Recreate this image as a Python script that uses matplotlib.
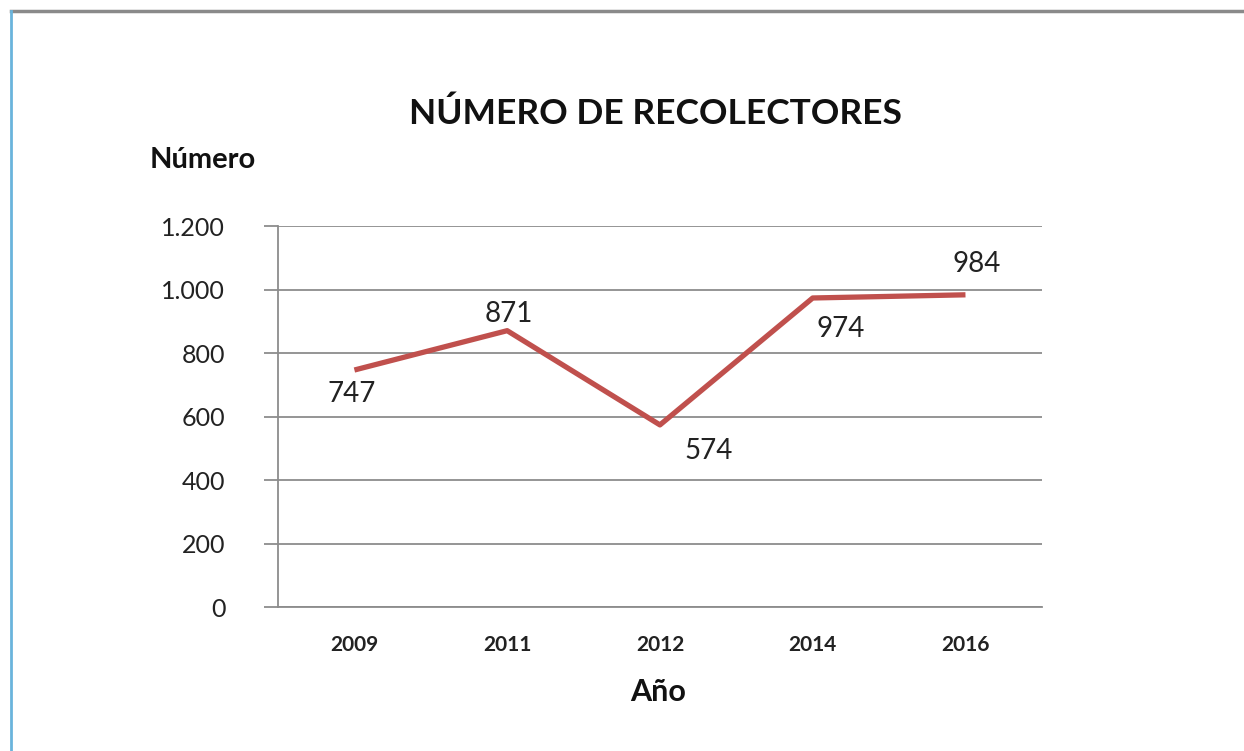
import matplotlib.pyplot as plt
from matplotlib.lines import Line2D
from matplotlib.ticker import FuncFormatter

plt.rcParams['font.family'] = ['Lato', 'DejaVu Sans']

years = ['2009', '2011', '2012', '2014', '2016']
recolectores = [747, 871, 574, 974, 984]
# label offsets (points) as placed in the original chart
label_offsets = [(-2, -17), (1, 12), (35, -19), (20, -22), (8, 22)]

fig = plt.figure(figsize=(12.44, 7.51), dpi=100)
ax = fig.add_axes([0.2235, 0.1917, 0.614, 0.507])

x = list(range(len(years)))
ax.plot(x, recolectores, color='#C0504D', lw=3.8, solid_capstyle='butt', zorder=3)

for xi, v, off in zip(x, recolectores, label_offsets):
    ax.annotate(str(v), (xi, v), xytext=off, textcoords='offset points',
                ha='center', va='center', fontsize=20, color='#222222')

ax.set_xlim(-0.5, len(years) - 0.5)
ax.set_ylim(0, 1200)
ax.set_yticks(range(0, 1201, 200))
ax.yaxis.set_major_formatter(FuncFormatter(lambda v, p: f'{int(v):,}'.replace(',', '.')))
ax.set_xticks(x)
ax.set_xticklabels(years, fontsize=15, fontweight='bold', color='#222222')
for t in ax.get_yticklabels():
    t.set_fontsize(18)
    t.set_color('#222222')

ax.grid(axis='y', color='#8c8c8c', lw=1.3)
ax.set_axisbelow(True)
for s in ['top', 'right']:
    ax.spines[s].set_visible(False)
ax.spines['left'].set_color('#8c8c8c')
ax.spines['bottom'].set_color('#8c8c8c')
ax.spines['left'].set_linewidth(1.3)
ax.spines['bottom'].set_linewidth(1.3)
ax.tick_params(axis='y', length=10, width=1.3, color='#8c8c8c', pad=28)
ax.tick_params(axis='x', length=0, pad=20)

fig.text(0.527, 0.848, 'NÚMERO DE RECOLECTORES', ha='center', va='center',
         fontsize=25.5, fontweight='bold', color='#111111')
fig.text(0.163, 0.787, 'Número', ha='center', va='center',
         fontsize=21, fontweight='bold', color='#111111')
fig.text(0.529, 0.078, 'Año', ha='center', va='center',
         fontsize=22, fontweight='bold', color='#111111')

# screenshot frame
fig.add_artist(Line2D([0.009, 1.0], [0.986, 0.986], transform=fig.transFigure,
                      color='#8a8a8a', lw=2.5))
fig.add_artist(Line2D([0.009, 0.009], [0.0, 0.986], transform=fig.transFigure,
                      color='#6ab4dc', lw=2))

fig.savefig('out.png', dpi=100)
